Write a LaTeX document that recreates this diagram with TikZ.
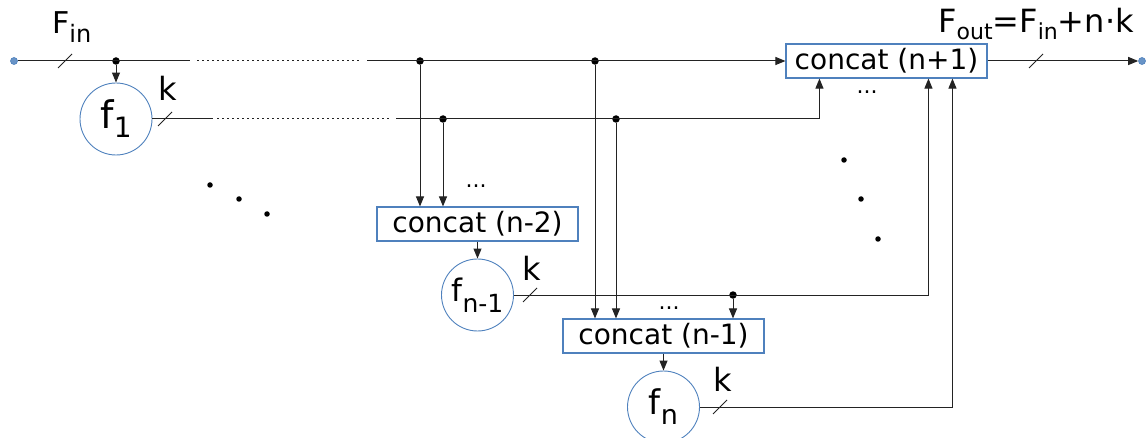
\documentclass[tikz,border=0pt]{standalone}
\usepackage{fontspec}
\setmainfont{DejaVu Sans}
\usetikzlibrary{arrows.meta}
\definecolor{bl}{RGB}{79,129,189}
\definecolor{ln}{RGB}{35,35,35}
\newcommand\lowsub[3]{\raisebox{-#1pt}{\fontsize{#2}{#2}\selectfont #3}}
\tikzset{
  cbox/.style={draw=bl, line width=1.1pt, minimum width=201pt, minimum height=34pt, inner sep=0pt, font=\fontsize{28}{30}\selectfont},
  fcirc/.style={draw=bl, line width=0.9pt, circle, minimum size=72pt, inner sep=0pt},
  wire/.style={draw=ln, line width=1pt},
  arr/.style={wire, -{Triangle[length=10pt,width=8pt]}},
  dotwire/.style={draw=ln, line width=1pt, dash pattern=on 2pt off 3pt},
  jdot/.style={circle, fill=black, inner sep=0pt, minimum size=7.5pt},
  sdot/.style={circle, fill=black, inner sep=0pt, minimum size=5.5pt},
  term/.style={circle, fill=bl!85, draw=bl, line width=0.6pt, inner sep=0pt, minimum size=7pt},
  tick/.style={draw=ln, line width=0.8pt},
  lbl/.style={anchor=base west, inner sep=0pt},
  ell/.style={inner sep=0pt, font=\fontsize{22}{24}\selectfont},
}
\begin{document}
\begin{tikzpicture}[x=1pt,y=-1pt]
\useasboundingbox (0,0) rectangle (1148,438);

% terminals
\node[term] (tin) at (14,61) {};
\node[term] (tout) at (1142,61) {};

% concat boxes
\node[cbox] (cN1) at (886.5,61) {concat (n+1)};
\node[cbox] (cN2) at (477.5,224) {concat (n-2)};
\node[cbox] (cNm1) at (663.5,336) {concat (n-1)};

% function circles
\node[fcirc] (f1) at (116,119) {\fontsize{38}{40}\selectfont f\lowsub{9}{28}{1}};
\node[fcirc] (fn1) at (477.5,295) {\fontsize{31}{33}\selectfont f\lowsub{11}{25}{n-1}};
\node[fcirc] (fn) at (663.5,407) {\fontsize{34}{36}\selectfont f\lowsub{10}{27}{n}};

% junction dots
\node[jdot] (j1) at (116,61) {};
\node[jdot] (j2) at (420,61) {};
\node[jdot] (j3) at (595,61) {};
\node[jdot] (j4) at (443,119) {};
\node[jdot] (j5) at (616,119) {};
\node[jdot] (j6) at (733,295) {};

% line coordinates
\coordinate (t1) at (190,61);
\coordinate (t2) at (197,61);
\coordinate (t3) at (361,61);
\coordinate (t4) at (367,61);
\coordinate (u1) at (213,119);
\coordinate (u2) at (217,119);
\coordinate (u3) at (391,119);
\coordinate (u4) at (396,119);

% top line
\draw[wire] (tin) -- (t1);
\draw[dotwire] (t2) -- (t3);
\draw[arr] (t4) -- (cN1.west);
\draw[arr] (j1) -- (f1);

% f1 output line
\draw[wire] (f1.east) -- (u1);
\draw[dotwire] (u2) -- (u3);
\draw[arr] (u4) -| ([xshift=34pt]cN1.south west);

% verticals to concat (n-2) and (n-1)
\draw[arr] (j2) -- (j2 |- cN2.north);
\draw[arr] (j4) -- (j4 |- cN2.north);
\draw[arr] (j3) -- (j3 |- cNm1.north);
\draw[arr] (j5) -- (j5 |- cNm1.north);
\draw[arr] (j6) -- (j6 |- cNm1.north);

% concat -> f
\draw[arr] (cN2) -- (fn1);
\draw[arr] (cNm1) -- (fn);

% f_{n-1} and f_n outputs
\draw[arr] (fn1.east) -| ([xshift=143pt]cN1.south west);
\draw[arr] (fn.east) -| ([xshift=167pt]cN1.south west);

% output
\draw[arr] (cN1.east) -- (tout);

% ticks
\coordinate (s1) at (65,61);
\coordinate (s2) at (1036,61);
\coordinate (s3) at (165,119);
\coordinate (s4) at (530,295);
\coordinate (s5) at (720,407);
\foreach \s in {s1,s2,s3,s4,s5} \draw[tick] (\s) +(-7,7) -- +(7,-7);

% ellipses
\node[ell] (e1) at (476,186) {...};
\node[ell] (e2) at (669,308) {...};
\node[ell] (e3) at (867,92) {...};

% diagonal dots
\node[sdot] (d1) at (210,185) {};
\node[sdot] (d2) at (239,199) {};
\node[sdot] (d3) at (267,214) {};
\node[sdot] (d4) at (844,160) {};
\node[sdot] (d5) at (861,199) {};
\node[sdot] (d6) at (878,239) {};

% labels
\node[lbl, font=\fontsize{30}{32}\selectfont] (lfin) at (52,34) {F\lowsub{9}{24}{in}};
\node[lbl, font=\fontsize{32}{34}\selectfont] (lfout) at (938,33) {F\lowsub{7}{22}{out}=F\lowsub{7}{22}{in}+n·k};
\node[lbl, font=\fontsize{32}{34}\selectfont] (k1) at (158,101) {k};
\node[lbl, font=\fontsize{32}{34}\selectfont] (k2) at (522,280) {k};
\node[lbl, font=\fontsize{32}{34}\selectfont] (k3) at (713,391) {k};
\end{tikzpicture}
\end{document}
